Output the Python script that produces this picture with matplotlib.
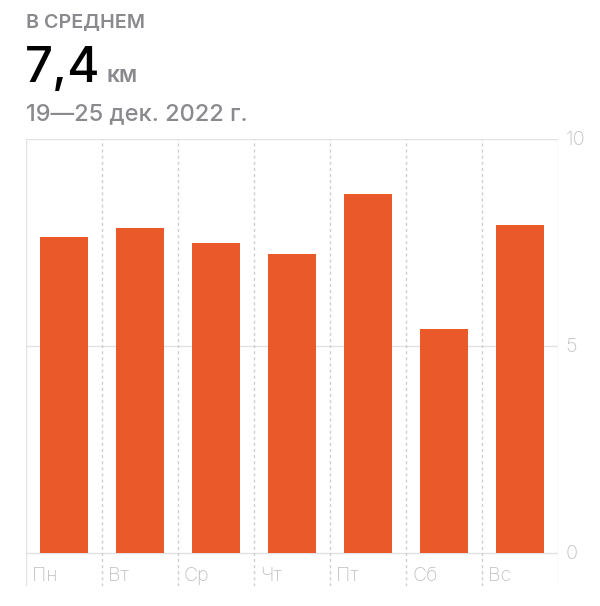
import matplotlib
matplotlib.use("Agg")
import matplotlib.pyplot as plt
import matplotlib.transforms as mtransforms

plt.rcParams['font.family'] = ['Inter', 'DejaVu Sans']

# Data
days = ["Пн", "Вт", "Ср", "Чт", "Пт", "Сб", "Вс"]
distance_km = [7.62, 7.84, 7.48, 7.21, 8.67, 5.41, 7.93]
y_ticks = [0, 5, 10]
y_tick_labels = ["0", "5", "10"]

header = "В СРЕДНЕМ"
average = "7,4"
unit = "км"
period = "19—25 дек. 2022 г."

bar_color = "#EA592A"
grid_color = "#E3E3E6"
dash_color = "#CFCFD3"
tick_color = "#C2C2C6"
head_color = "#8A8A8E"

W, H = 600, 606
fig = plt.figure(figsize=(W / 100, H / 100), dpi=100)

# axes: left edge 25.7px, right 558.3px, top (y=10) at 139px, bottom at 586px
left, right, top, bottom = 25.7, 558.3, 139.0, 586.0
ax = fig.add_axes([left / W, 1 - bottom / H, (right - left) / W, (bottom - top) / H])
px_per_unit = 41.37
ax.set_xlim(-0.5, len(days) - 0.5)
ax.set_ylim(-(bottom - 552.7) / px_per_unit, 10)
ax.axis('off')

# grid
for t in y_ticks:
    ax.axhline(t, color=grid_color, lw=1.0, zorder=0)
ax.axvline(-0.5, color=grid_color, lw=1.0, zorder=0)
ax.axvline(len(days) - 0.5, color=grid_color, lw=1.0, zorder=0)
for i in range(1, len(days)):
    ax.axvline(i - 0.5, color=dash_color, lw=1.0, ls=(0, (2.2, 2.2)), zorder=0)

ax.bar(range(len(days)), distance_km, width=0.636, color=bar_color, zorder=2)

# day labels
lab_tr = mtransforms.offset_copy(ax.transData, fig=fig, x=6, y=0, units='dots')
for i, d in enumerate(days):
    ax.text(i - 0.5, -0.556, d, transform=lab_tr, ha='left', va='center',
            fontsize=14, color=tick_color, fontweight='light')

# y labels on the right
ylab_tr = mtransforms.offset_copy(ax.transData, fig=fig, x=7, y=-1, units='dots')
for t, s in zip(y_ticks, y_tick_labels):
    ax.text(len(days) - 0.5, t, s, transform=ylab_tr, ha='left', va='center',
            fontsize=14.5, color=tick_color, fontweight='light')

# header
fig.text(26 / W, 1 - 26.7 / H, header, fontsize=14.2, color=head_color,
         fontweight='semibold', va='baseline')
fig.text(25 / W, 1 - 81.7 / H, average, fontsize=35.5, color='black',
         fontweight='medium', va='baseline')
fig.text(107 / W, 1 - 81.7 / H, unit, fontsize=16.5, color=head_color,
         fontweight='semibold', va='baseline')
fig.text(26 / W, 1 - 120 / H, period, fontsize=17, color=head_color,
         fontweight='medium', va='baseline')

fig.savefig("out.png", dpi=100)
